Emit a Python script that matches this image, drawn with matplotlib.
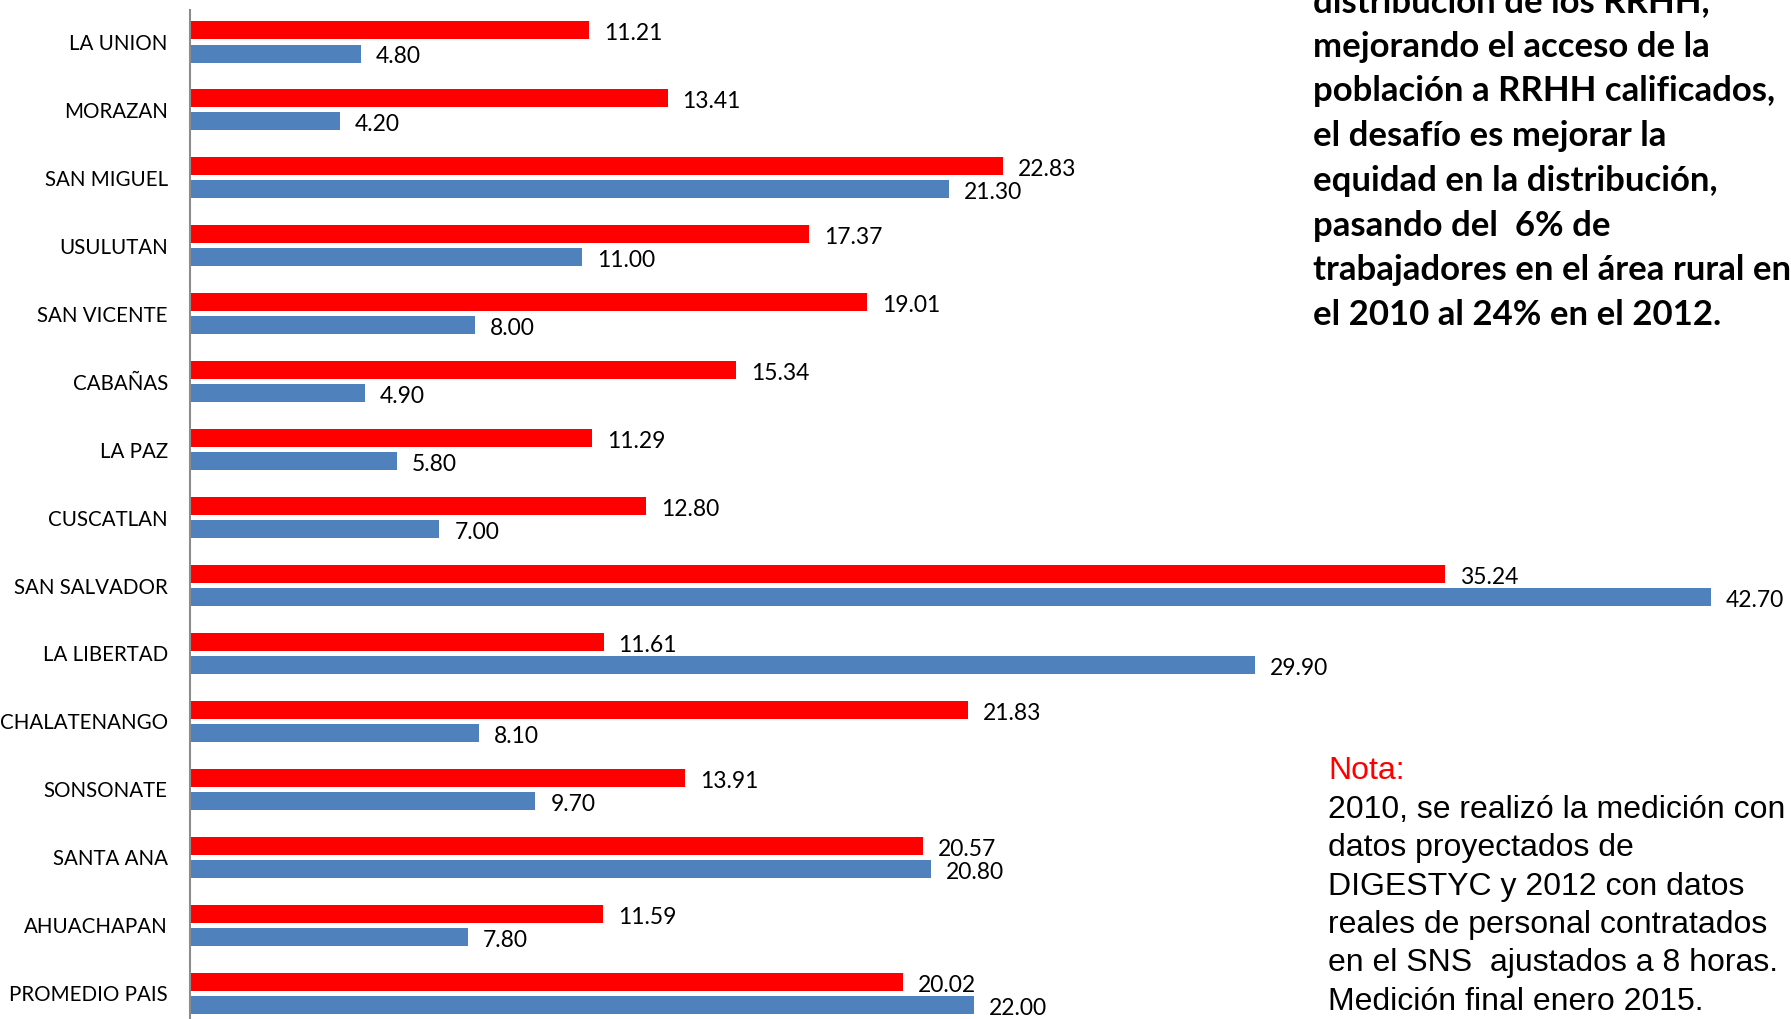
import numpy as np
import matplotlib
matplotlib.use("Agg")
import matplotlib.pyplot as plt

# Departamentos (de arriba hacia abajo)
departamentos = ["LA UNION", "MORAZAN", "SAN MIGUEL", "USULUTAN", "SAN VICENTE",
                 "CABAÑAS", "LA PAZ", "CUSCATLAN", "SAN SALVADOR", "LA LIBERTAD",
                 "CHALATENANGO", "SONSONATE", "SANTA ANA", "AHUACHAPAN", "PROMEDIO PAIS"]
valores_2012 = [11.21, 13.41, 22.83, 17.37, 19.01, 15.34, 11.29, 12.80,
                35.24, 11.61, 21.83, 13.91, 20.57, 11.59, 20.02]
valores_2010 = [4.80, 4.20, 21.30, 11.00, 8.00, 4.90, 5.80, 7.00,
                42.70, 29.90, 8.10, 9.70, 20.80, 7.80, 22.00]

texto_desafio = ["distribución de los RRHH,",
                 "mejorando el acceso de la",
                 "población a RRHH calificados,",
                 "el desafío es mejorar la",
                 "equidad en la distribución,",
                 "pasando del  6% de",
                 "trabajadores en el área rural en",
                 "el 2010 al 24% en el 2012."]
texto_nota = ["2010, se realizó la medición con",
              "datos proyectados de",
              "DIGESTYC y 2012 con datos",
              "reales de personal contratados",
              "en el SNS  ajustados a 8 horas.",
              "Medición final enero 2015."]

W, H = 1791, 1019
fig = plt.figure(figsize=(W / 100, H / 100), dpi=100)
ax = fig.add_axes([190 / W, 0, 1 - 190 / W, 1 - 10 / H])

y = np.arange(len(departamentos))
alto = 0.265
desp = 0.17
ax.barh(y - desp, valores_2012, height=alto, color="#ff0000")
ax.barh(y + desp, valores_2010, height=alto, color="#4f81bd")

for yi, v in zip(y, valores_2012):
    ax.text(v + 0.42, yi - desp + 0.05, f"{v:.2f}", va="center", ha="left",
            fontsize=16.5, family="Lato")
for yi, v in zip(y, valores_2010):
    ax.text(v + 0.42, yi + desp + 0.05, f"{v:.2f}", va="center", ha="left",
            fontsize=16.5, family="Lato")

ax.set_xlim(0, 44.95)
ax.set_ylim(14.38, -0.471)
ax.set_yticks(y)
ax.set_yticklabels(departamentos, fontsize=14.8, family="Lato")
ax.tick_params(axis="y", length=0, pad=16)
ax.set_xticks([])
for s in ["top", "right", "bottom"]:
    ax.spines[s].set_visible(False)
ax.spines["left"].set_color("#8c8c8c")
ax.spines["left"].set_linewidth(1.5)

# Texto del desafío (negrita, a la derecha)
for i, linea in enumerate(texto_desafio):
    fig.text(1313 / W, 1 - (2 + 44.7 * i) / H, linea, ha="left", va="center",
             fontsize=25, fontweight="bold", family="Lato")

# Nota
fig.text(1328 / W, 1 - 771 / H, "Nota:", color="#ff0000", ha="left", va="center",
         fontsize=23, family="Liberation Sans")
for i, linea in enumerate(texto_nota):
    fig.text(1328 / W, 1 - (771 + 38.5 * (i + 1)) / H, linea, ha="left", va="center",
             fontsize=23, family="Liberation Sans")

fig.savefig("out.png", dpi=100)
